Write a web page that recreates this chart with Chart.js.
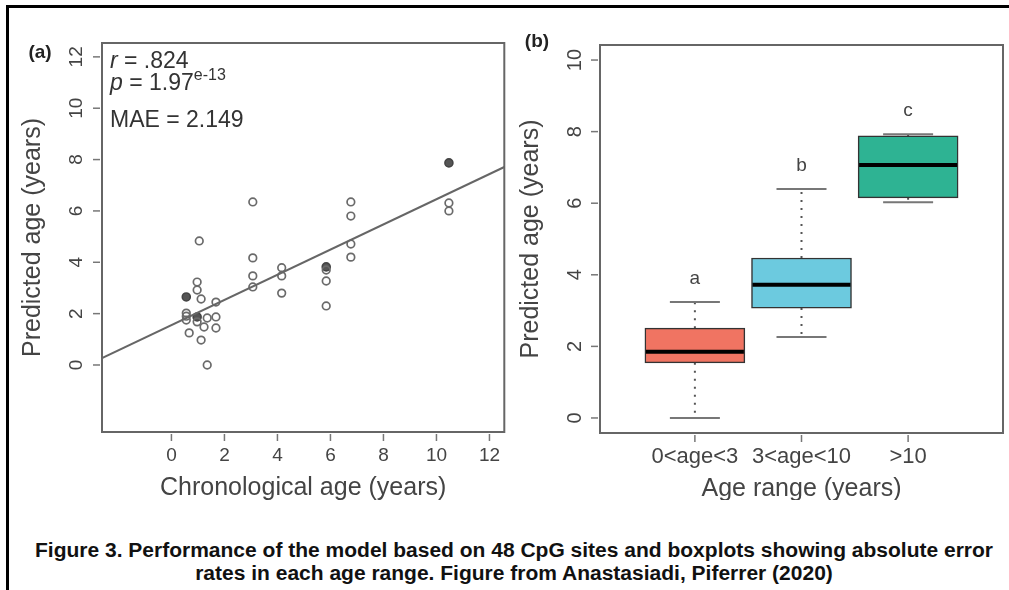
<!DOCTYPE html>
<html>
<head>
<meta charset="utf-8">
<script src="https://cdn.jsdelivr.net/npm/chart.js@4"></script>
<style>
  html, body { margin: 0; padding: 0; background: #fff; }
  body { width: 1009px; height: 590px; position: relative; overflow: hidden; font-family: 'Liberation Sans', Arial, sans-serif; }
  .frame { position: absolute; left: 6px; top: 5px; right: -10px; bottom: -10px; border-left: 3px solid #000; border-top: 3px solid #000; }
  #scatter-chart { position: absolute; left: 0; top: 0; }
  #box-chart { position: absolute; left: 510px; top: 0; }
  .caption { position: absolute; left: 19px; right: 0; top: 539px; text-align: center; font-weight: bold; font-size: 20px; line-height: 23px; color: #111; transform: scaleX(1.05); }
</style>
</head>
<body>
<div class="frame"></div>
<canvas id="scatter-chart" width="510" height="500"></canvas>
<canvas id="box-chart" width="499" height="500"></canvas>
<div class="caption">Figure 3. Performance of the model based on 48 CpG sites and boxplots showing absolute error<br>rates in each age range. Figure from Anastasiadi, Piferrer (2020)</div>

<script>
// (a) chronological vs predicted age
const chronoAge = [0.56, 0.56, 0.56, 0.67, 0.97, 0.97, 0.97, 1.05, 1.12, 1.12, 1.23, 1.35, 1.35,
                   1.68, 1.68, 1.68, 3.07, 3.07, 3.07, 3.07, 4.16, 4.16, 4.16, 5.84, 5.84, 5.84,
                   6.77, 6.77, 6.77, 6.77, 10.47, 10.47];
const predAge   = [2.02, 1.75, 1.90, 1.25, 3.23, 2.92, 1.68, 4.83, 2.57, 0.97, 1.48, 1.83, 0.00,
                   2.45, 1.87, 1.44, 6.35, 4.17, 3.47, 3.04, 3.79, 3.47, 2.80, 3.70, 3.27, 2.30,
                   6.35, 5.80, 4.71, 4.20, 6.31, 6.00];
// darker (overlapping) points
const darkAge   = [0.56, 0.97, 5.84, 10.47];
const darkPred  = [2.65, 1.87, 3.82, 7.87];
// fitted line, ends at the plot limits
const fitX = [-2.62, 12.56];
const fitY = [0.27, 7.71];
const scatterXTicks = [0, 2, 4, 6, 8, 10, 12];
const scatterYTicks = [0, 2, 4, 6, 8, 10, 12];

// (b) boxplots per age range
const boxLabels  = ['0<age<3', '3<age<10', '>10'];
const boxMin     = [0.00, 2.26, 6.03];
const boxQ1      = [1.54, 3.07, 6.15];
const boxMedian  = [1.85, 3.72, 7.07];
const boxQ3      = [2.51, 4.47, 7.88];
const boxMax     = [3.24, 6.40, 7.93];
const boxLetters = ['a', 'b', 'c'];
const boxColors  = ['#F07462', '#6CCADF', '#2EB393'];
const boxYTicks  = [0, 2, 4, 6, 8, 10];

const FONT = "'Liberation Sans', Arial, sans-serif";
const INK  = '#444';

// R-like frame, ticks and axis titles, drawn from the chart scales
const rAxes = {
  id: 'rAxes',
  afterDraw(chart, args, o) {
    const { ctx, chartArea: a, scales } = chart;
    ctx.save();
    ctx.strokeStyle = '#666';
    ctx.lineWidth = 2;
    ctx.strokeRect(a.left, a.top, a.right - a.left, a.bottom - a.top);

    ctx.fillStyle = INK;
    ctx.strokeStyle = '#777';
    ctx.lineWidth = 1.5;
    ctx.textAlign = 'center';
    ctx.textBaseline = 'middle';

    ctx.font = `${o.yTickSize}px ${FONT}`;
    o.yTicks.forEach((v) => {
      const y = scales.y.getPixelForValue(v);
      ctx.beginPath(); ctx.moveTo(a.left - 2, y); ctx.lineTo(a.left - 9, y); ctx.stroke();
      ctx.save();
      ctx.translate(a.left - 25, y);
      ctx.rotate(-Math.PI / 2);
      ctx.fillText(String(v), 0, 0);
      ctx.restore();
    });

    ctx.font = `${o.xTickSize}px ${FONT}`;
    o.xTicks.forEach((v, i) => {
      const x = scales.x.getPixelForValue(v);
      ctx.beginPath(); ctx.moveTo(x, a.bottom + 2); ctx.lineTo(x, a.bottom + 9); ctx.stroke();
      ctx.fillText(o.xLabels ? o.xLabels[i] : String(v), x, a.bottom + 24);
    });

    ctx.font = `25px ${FONT}`;
    ctx.fillText(o.xTitle, (a.left + a.right) / 2, a.bottom + 56);
    ctx.save();
    ctx.translate(a.left - 69, (a.top + a.bottom) / 2);
    ctx.rotate(-Math.PI / 2);
    ctx.fillText(o.yTitle, 0, 0);
    ctx.restore();

    ctx.fillStyle = '#222';
    ctx.font = `bold 19px ${FONT}`;
    ctx.fillText(o.panel, o.panelX, o.panelY);
    ctx.restore();
  },
};

// r / p / MAE text block for panel (a)
const statsText = {
  id: 'statsText',
  afterDraw(chart) {
    const { ctx, chartArea: a } = chart;
    const x0 = a.left + 8;
    ctx.save();
    ctx.fillStyle = '#333';
    ctx.textAlign = 'left';
    ctx.textBaseline = 'alphabetic';

    ctx.font = `italic 23px ${FONT}`;
    ctx.fillText('r', x0, a.top + 25);
    let w = ctx.measureText('r').width;
    ctx.font = `23px ${FONT}`;
    ctx.fillText(' = .824', x0 + w, a.top + 25);

    ctx.font = `italic 23px ${FONT}`;
    ctx.fillText('p', x0, a.top + 47);
    w = ctx.measureText('p').width;
    ctx.font = `23px ${FONT}`;
    ctx.fillText(' = 1.97', x0 + w, a.top + 47);
    w += ctx.measureText(' = 1.97').width;
    ctx.font = `16px ${FONT}`;
    ctx.fillText('e-13', x0 + w, a.top + 37);

    ctx.font = `23px ${FONT}`;
    ctx.fillText('MAE = 2.149', x0, a.top + 84);
    ctx.restore();
  },
};

// whiskers, caps, medians and group letters for panel (b)
const boxParts = {
  id: 'boxParts',
  beforeDatasetsDraw(chart) {
    const { ctx, scales } = chart;
    ctx.save();
    boxLabels.forEach((_, i) => {
      const x = scales.x.getPixelForValue(i + 1);
      const yMin = scales.y.getPixelForValue(boxMin[i]);
      const yQ1 = scales.y.getPixelForValue(boxQ1[i]);
      const yQ3 = scales.y.getPixelForValue(boxQ3[i]);
      const yMax = scales.y.getPixelForValue(boxMax[i]);
      ctx.strokeStyle = '#555';
      ctx.lineWidth = 2;
      ctx.setLineDash([2, 6]);
      ctx.beginPath();
      ctx.moveTo(x, yQ3); ctx.lineTo(x, yMax);
      ctx.moveTo(x, yQ1); ctx.lineTo(x, yMin);
      ctx.stroke();
      ctx.setLineDash([]);
      ctx.strokeStyle = '#777';
      ctx.beginPath();
      ctx.moveTo(x - 25, yMax); ctx.lineTo(x + 25, yMax);
      ctx.moveTo(x - 25, yMin); ctx.lineTo(x + 25, yMin);
      ctx.stroke();
    });
    ctx.restore();
  },
  afterDatasetsDraw(chart) {
    const { ctx, scales } = chart;
    ctx.save();
    ctx.fillStyle = INK;
    ctx.font = `19px ${FONT}`;
    ctx.textAlign = 'center';
    ctx.textBaseline = 'middle';
    boxLabels.forEach((_, i) => {
      const x = scales.x.getPixelForValue(i + 1);
      const yMed = scales.y.getPixelForValue(boxMedian[i]);
      ctx.strokeStyle = '#000';
      ctx.lineWidth = 4;
      ctx.beginPath(); ctx.moveTo(x - 49, yMed); ctx.lineTo(x + 49, yMed); ctx.stroke();
      ctx.fillText(boxLetters[i], x, scales.y.getPixelForValue(boxMax[i]) - 23);
    });
    ctx.restore();
  },
};

function renderScatter() {
  const ctx = document.getElementById('scatter-chart').getContext('2d');
  return new Chart(ctx, {
    type: 'scatter',
    data: {
      datasets: [
        {
          type: 'line',
          data: fitX.map((x, i) => ({ x, y: fitY[i] })),
          borderColor: '#666',
          borderWidth: 2,
          pointRadius: 0,
          showLine: true,
        },
        {
          data: chronoAge.map((x, i) => ({ x, y: predAge[i] })),
          pointRadius: 3.8,
          pointBorderWidth: 1.7,
          borderColor: '#6a6a6a',
          backgroundColor: 'rgba(255,255,255,0)',
        },
        {
          data: darkAge.map((x, i) => ({ x, y: darkPred[i] })),
          pointRadius: 4,
          pointBorderWidth: 1.6,
          borderColor: '#444',
          backgroundColor: '#555',
        },
      ],
    },
    options: {
      responsive: false,
      animation: false,
      layout: { padding: { left: 102, top: 43, right: 2, bottom: 68 } },
      plugins: {
        legend: { display: false },
        tooltip: { enabled: false },
        rAxes: {
          xTicks: scatterXTicks, yTicks: scatterYTicks, xTickSize: 19, yTickSize: 19,
          xTitle: 'Chronological age (years)', yTitle: 'Predicted age (years)',
          panel: '(a)', panelX: 40, panelY: 53,
        },
      },
      scales: {
        x: { type: 'linear', display: false, min: -2.62, max: 12.56 },
        y: { type: 'linear', display: false, min: -2.61, max: 12.54 },
      },
    },
    plugins: [rAxes, statsText],
  });
}

function renderBoxes() {
  const ctx = document.getElementById('box-chart').getContext('2d');
  return new Chart(ctx, {
    type: 'bar',
    data: {
      datasets: [{
        data: boxLabels.map((_, i) => ({ x: i + 1, y: [boxQ1[i], boxQ3[i]] })),
        backgroundColor: boxColors,
        borderColor: '#333',
        borderWidth: 1.5,
        borderSkipped: false,
        barThickness: 100,
      }],
    },
    options: {
      responsive: false,
      animation: false,
      layout: { padding: { left: 90, top: 45, right: 6, bottom: 67 } },
      plugins: {
        legend: { display: false },
        tooltip: { enabled: false },
        rAxes: {
          xTicks: [1, 2, 3], xLabels: boxLabels, yTicks: boxYTicks, xTickSize: 22, yTickSize: 20,
          xTitle: 'Age range (years)', yTitle: 'Predicted age (years)',
          panel: '(b)', panelX: 27, panelY: 42,
        },
      },
      scales: {
        x: { type: 'linear', display: false, min: 0.38, max: 3.62 },
        y: { type: 'linear', display: false, min: -0.42, max: 10.42 },
      },
    },
    plugins: [boxParts, rAxes],
  });
}

renderScatter();
renderBoxes();
</script>
</body>
</html>
